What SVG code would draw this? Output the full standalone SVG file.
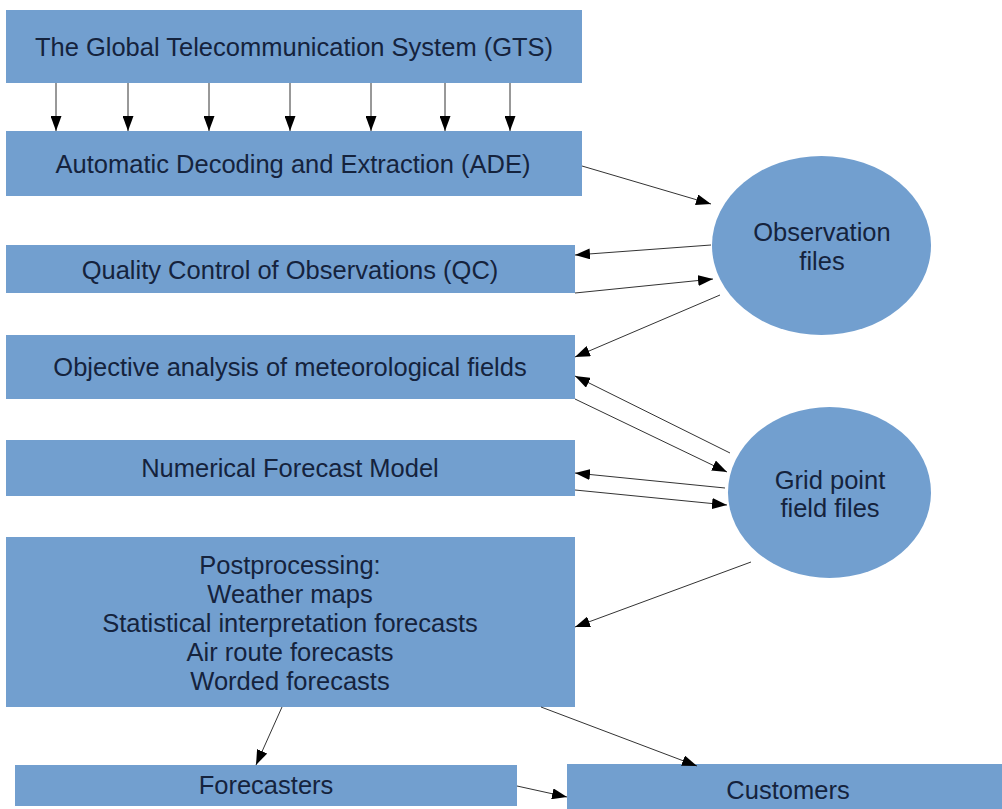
<svg xmlns="http://www.w3.org/2000/svg" width="1002" height="809" viewBox="0 0 1002 809">
<defs>
<marker id="ah" markerWidth="15" markerHeight="11" refX="15" refY="5.5" orient="auto" markerUnits="userSpaceOnUse">
<path d="M0,0 L15,5.5 L0,11 z" fill="#000"/>
</marker>
<style>
.box{fill:#729fcf;}
.t{font-family:"Liberation Sans",Arial,sans-serif;font-size:25.5px;fill:#15233d;text-anchor:middle;}
.c line{stroke:#333;stroke-width:1;marker-end:url(#ah);}
</style>
</defs>
<rect width="1002" height="809" fill="#fff"/>
<g id="gts"><rect class="box" x="6" y="10" width="576" height="73"/><text class="t" x="294" y="56">The Global Telecommunication System (GTS)</text></g>
<g id="ade"><rect class="box" x="6" y="131" width="576" height="65"/><text class="t" x="293" y="173">Automatic Decoding and Extraction (ADE)</text></g>
<g id="obs"><ellipse class="box" cx="821.5" cy="245.5" rx="109.5" ry="89.5"/><text class="t" x="822" y="241">Observation</text><text class="t" x="822" y="270">files</text></g>
<g id="qc"><rect class="box" x="6" y="245" width="569" height="48"/><text class="t" x="290" y="279">Quality Control of Observations (QC)</text></g>
<g id="obj"><rect class="box" x="6" y="335" width="569" height="64"/><text class="t" x="290" y="376">Objective analysis of meteorological fields</text></g>
<g id="nfm"><rect class="box" x="6" y="440" width="569" height="56"/><text class="t" x="290" y="477">Numerical Forecast Model</text></g>
<g id="grid"><ellipse class="box" cx="829.5" cy="492.5" rx="101.5" ry="85.5"/><text class="t" x="830" y="489">Grid point</text><text class="t" x="830" y="517">field files</text></g>
<g id="post"><rect class="box" x="6" y="537" width="569" height="170"/>
<text class="t" x="290" y="574">Postprocessing:</text>
<text class="t" x="290" y="603">Weather maps</text>
<text class="t" x="290" y="632">Statistical interpretation forecasts</text>
<text class="t" x="290" y="661">Air route forecasts</text>
<text class="t" x="290" y="690">Worded forecasts</text></g>
<g id="fc"><rect class="box" x="15" y="765" width="502" height="41"/><text class="t" x="266" y="794">Forecasters</text></g>
<g id="cust"><rect class="box" x="567" y="764" width="435" height="45"/><text class="t" x="788" y="799">Customers</text></g>
<g class="c" id="connectors">
<line x1="56" y1="83" x2="56" y2="131"/>
<line x1="128" y1="83" x2="128" y2="131"/>
<line x1="209" y1="83" x2="209" y2="131"/>
<line x1="290" y1="83" x2="290" y2="131"/>
<line x1="371" y1="83" x2="371" y2="131"/>
<line x1="445" y1="83" x2="445" y2="131"/>
<line x1="510" y1="83" x2="510" y2="131"/>
<line x1="582" y1="166" x2="711" y2="204"/>
<line x1="711" y1="245" x2="575" y2="255"/>
<line x1="575" y1="293" x2="713" y2="279"/>
<line x1="720" y1="295" x2="575" y2="357"/>
<line x1="730" y1="453" x2="575" y2="376"/>
<line x1="575" y1="399" x2="727" y2="472"/>
<line x1="725" y1="488" x2="575" y2="473"/>
<line x1="575" y1="490" x2="727" y2="505"/>
<line x1="751" y1="562" x2="575" y2="627"/>
<line x1="282" y1="707" x2="256" y2="765"/>
<line x1="541" y1="707" x2="697" y2="766"/>
<line x1="517" y1="786" x2="567" y2="797"/>
</g>
</svg>
